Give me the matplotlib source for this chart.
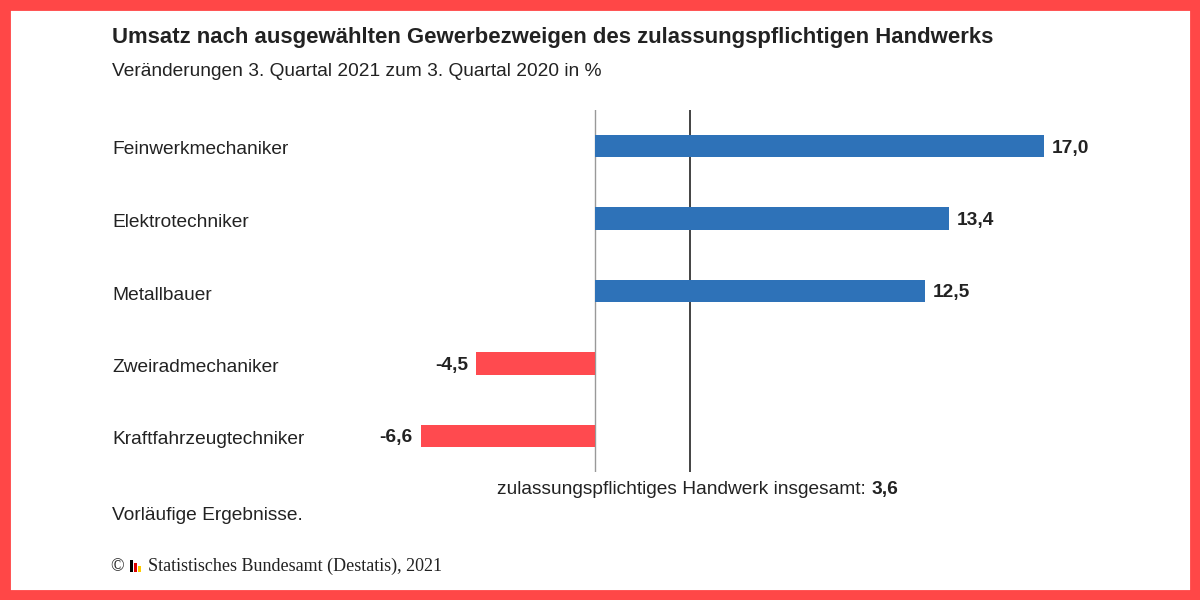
import matplotlib
matplotlib.use('Agg')
import matplotlib.pyplot as plt
from matplotlib.patches import Rectangle

plt.rcParams['font.family'] = ['Liberation Sans', 'DejaVu Sans']

categories = ['Feinwerkmechaniker', 'Elektrotechniker', 'Metallbauer',
              'Zweiradmechaniker', 'Kraftfahrzeugtechniker']
values = [17.0, 13.4, 12.5, -4.5, -6.6]
total = 3.6

W, H = 1200, 600
fs = 13.8
fig = plt.figure(figsize=(12, 6), dpi=100)
fig.patches.append(Rectangle((0, 0), 1, 1, transform=fig.transFigure, zorder=-10,
                             facecolor='white', edgecolor='#ff4747', linewidth=15))

# axes placed in pixel coordinates: x 380..1100, y 110..472
x0, x1, ytop, ybot = 380, 1100, 110, 472
ax = fig.add_axes([x0 / W, 1 - ybot / H, (x1 - x0) / W, (ybot - ytop) / H])
ax.set_zorder(5)
ax.patch.set_alpha(0)
scale = 449 / 17.0
ax.set_xlim((x0 - 595) / scale, (x1 - 595) / scale)
ax.set_ylim(4.5, -0.5)
ax.axis('off')

colors = ['#2e72b8' if v > 0 else '#ff4a4f' for v in values]
ax.barh(range(len(values)), values, height=0.31, color=colors, zorder=3)
ax.axvline(0, color='#999999', lw=1, zorder=1)
ax.axvline(total, color='#222222', lw=1.2, zorder=1)

for i, v in enumerate(values):
    s = f'{v:.1f}'.replace('.', ',')
    if v > 0:
        ax.text(v + 0.3, i, s, va='center_baseline', ha='left', fontsize=fs, fontweight='bold', color='#222222')
    else:
        ax.text(v - 0.3, i, s, va='center_baseline', ha='right', fontsize=fs, fontweight='bold', color='#222222')
    fig.text(112 / W, 1 - (148 + 72.5 * i) / H, categories[i], va='center_baseline', ha='left',
             fontsize=fs, color='#222222')

fig.text(112 / W, 1 - 37 / H, 'Umsatz nach ausgewählten Gewerbezweigen des zulassungspflichtigen Handwerks',
         fontsize=15.9, fontweight='bold', va='center', color='#222222')
fig.text(112 / W, 1 - 71 / H, 'Veränderungen 3. Quartal 2021 zum 3. Quartal 2020 in %',
         fontsize=fs, va='center', color='#222222')
fig.text(871 / W, 1 - 494 / H, 'zulassungspflichtiges Handwerk insgesamt: ',
         fontsize=fs, va='baseline', ha='right', color='#222222')
fig.text(871 / W, 1 - 494 / H, '3,6', fontsize=fs, fontweight='bold', va='baseline', ha='left', color='#222222')
fig.text(112 / W, 1 - 516 / H, 'Vorläufige Ergebnisse.', fontsize=fs, va='center', color='#222222')
fig.text(110 / W, 1 - 567 / H, '©', fontsize=13, family='Liberation Serif', va='center', color='#222222')
fig.text(148 / W, 1 - 566 / H, 'Statistisches Bundesamt (Destatis), 2021', fontsize=13,
         family='Liberation Serif', va='center', color='#222222')
# small logo
for j, c in enumerate(['#000000', '#dd0000', '#ffcc00']):
    fig.patches.append(Rectangle(((130 + j * 4) / W, 1 - 572 / H), 3 / W, (12 - j * 3) / H,
                                 transform=fig.transFigure, facecolor=c))

fig.savefig('out.png', dpi=100)
